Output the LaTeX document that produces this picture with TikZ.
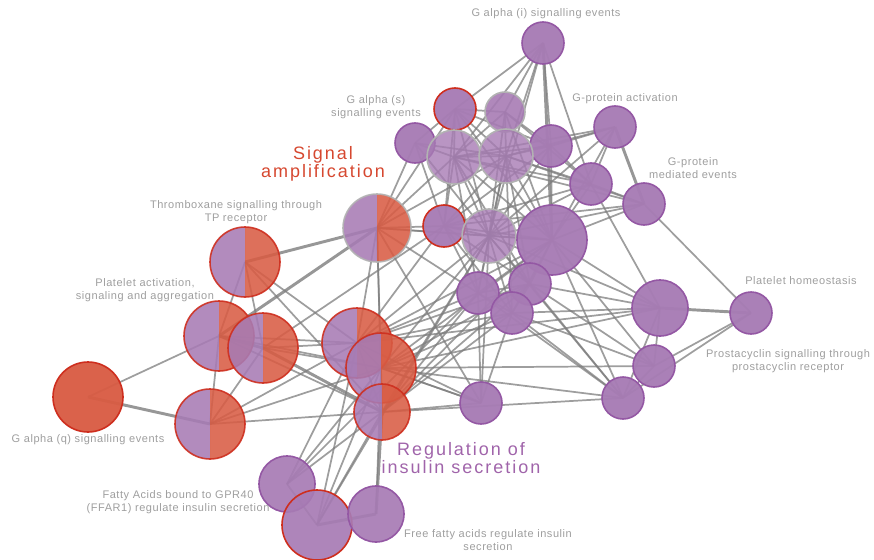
\documentclass[tikz,border=0pt]{standalone}
\usepackage{fontspec}
\setmainfont{Liberation Sans}
\newfontfamily\smallfam[LetterSpace=5]{Liberation Sans}
\newfontfamily\bigfam[LetterSpace=11]{Liberation Sans}
\usetikzlibrary{calc}
\definecolor{pf}{RGB}{167,123,180}
\definecolor{pb}{RGB}{148,88,164}
\definecolor{rf}{RGB}{216,92,68}
\definecolor{rb}{RGB}{206,46,30}
\definecolor{gb}{RGB}{178,178,178}
\definecolor{edgecol}{RGB}{125,125,125}
\definecolor{lab}{RGB}{158,158,158}
\definecolor{redlab}{RGB}{214,72,48}
\definecolor{purlab}{RGB}{160,100,170}
\newcommand\rsCirc[5]{\filldraw[fill=#3,draw=#4,line width=1.2pt,fill opacity=#5] (#1) circle[radius={#2*0.75pt}];}
\newcommand\rsSplit[3]{%
  \begin{scope}\clip ($(#1)+(-#2-3,-#2-3)$) rectangle ($(#1)+(0,#2+3)$);
  \fill[pf,fill opacity=0.88] (#1) circle[radius={#2*0.75pt}];\end{scope}
  \begin{scope}\clip ($(#1)+(0,-#2-3)$) rectangle ($(#1)+(#2+3,#2+3)$);
  \fill[rf,fill opacity=0.88] (#1) circle[radius={#2*0.75pt}];\end{scope}
  \draw[#3,line width=1.2pt,draw opacity=0.9] (#1) circle[radius={#2*0.75pt}];}
\tikzset{
  ew/.style={draw=edgecol,line width=1.3pt,draw opacity=0.75},
  et/.style={draw=edgecol,line width=2.2pt,draw opacity=0.8},
  smalllab/.style={text=lab,font=\smallfam\fontsize{8.25}{9.75}\selectfont,align=center,inner sep=0pt},
  biglab/.style={font=\bigfam\fontsize{13.5}{13.5}\selectfont,align=center,inner sep=0pt}
}
\begin{document}
\begin{tikzpicture}[x=0.75pt,y=-0.75pt]
\useasboundingbox (0,0) rectangle (874,560);
% centres
\coordinate (gi) at (543,43);
\coordinate (c2) at (455,109);
\coordinate (c3) at (505,112);
\coordinate (gs) at (415,143);
\coordinate (c5) at (454,157);
\coordinate (c6) at (506,156);
\coordinate (c7) at (551,146);
\coordinate (gpa) at (615,127);
\coordinate (c9) at (591,184);
\coordinate (gpm) at (644,204);
\coordinate (sa) at (377,228);
\coordinate (c12) at (444,226);
\coordinate (c13) at (489,236);
\coordinate (c14) at (552,240);
\coordinate (c15) at (478,293);
\coordinate (c16) at (530,284);
\coordinate (c17) at (512,313);
\coordinate (c18) at (660,308);
\coordinate (ph) at (751,313);
\coordinate (pc) at (654,366);
\coordinate (c21) at (623,398);
\coordinate (c22) at (481,403);
\coordinate (tp) at (245,262);
\coordinate (pa) at (219,336);
\coordinate (c25) at (263,348);
\coordinate (c26) at (357,343);
\coordinate (c27) at (381,368);
\coordinate (c28) at (382,412);
\coordinate (gq) at (88,397);
\coordinate (c30) at (210,424);
\coordinate (fa) at (287,484);
\coordinate (c32) at (317,525);
\coordinate (ff) at (376,514);
% edges
\foreach \b in {c2,c3,c5,c6,c7,c13,c9} \draw[ew] (gi) -- (\b);
\draw[et] (gi) -- (c14);
\foreach \b in {c2,c5,c12,c13,sa,c6} \draw[ew] (gs) -- (\b);
\foreach \b in {c3,c5,c6,c7,c13,c12,c14} \draw[ew] (c2) -- (\b);
\foreach \b in {c5,c6,c7,c13,c14,c9} \draw[ew] (c3) -- (\b);
\foreach \b in {c6,c7,c12,c13,c14,c15,c16,c9} \draw[ew] (c5) -- (\b);
\foreach \b in {c7,c9,c12,c13,c14,c15,c16,c17,gpm} \draw[ew] (c6) -- (\b);
\foreach \b in {c9,c13,c14,c12,gpa} \draw[ew] (c7) -- (\b);
\foreach \b in {c9,c6,c13,c14,c5} \draw[ew] (gpa) -- (\b);
\draw[et] (gpa) -- (gpm);
\foreach \b in {c12,c13,c14,gpm,c18} \draw[ew] (c9) -- (\b);
\foreach \b in {c14,c13,ph,c5,c12} \draw[ew] (gpm) -- (\b);
\foreach \b in {c12,c13,c14,c6,c26,c27,c28,c15,c22,c2,c5} \draw[ew] (sa) -- (\b);
\foreach \b in {tp,pa} \draw[et] (sa) -- (\b);
\foreach \b in {c13,c14,c15,c16,c17} \draw[ew] (c12) -- (\b);
\foreach \b in {c14,c15,c16,c17,c22,c18,c21} \draw[ew] (c13) -- (\b);
\foreach \b in {c15,c16,c17,c18,pc,c21} \draw[ew] (c14) -- (\b);
\foreach \b in {c16,c17,c22,c21} \draw[ew] (c15) -- (\b);
\foreach \b in {c17,c18,c21,pc} \draw[ew] (c16) -- (\b);
\foreach \b in {c22,c18,c21,pc} \draw[ew] (c17) -- (\b);
\draw[et] (c18) -- (ph);
\foreach \b in {pc,c21} \draw[ew] (c18) -- (\b);
\foreach \b in {pc,c21} \draw[ew] (ph) -- (\b);
\draw[ew] (pc) -- (c21);
\foreach \b in {c26,c27} \draw[ew] (c22) -- (\b);
\foreach \b in {pa,c25,c26,c28} \draw[ew] (tp) -- (\b);
\draw[et] (pa) -- (c25);
\foreach \b in {gq,c30,c26,c27,c28} \draw[ew] (pa) -- (\b);
\foreach \b in {c26,c27,c30,c12} \draw[ew] (c25) -- (\b);
\draw[et] (c25) -- (c28);
\foreach \b in {c27,c28,c13,c14,c15,c16,c12,c17,c18} \draw[ew] (c26) -- (\b);
\foreach \b in {c28,c14,c16,c17,c18,pc,c21,c13,c22} \draw[ew] (c27) -- (\b);
\foreach \b in {c13,c14,c15,c16,c17,c21,c22} \draw[ew] (c28) -- (\b);
\draw[et] (c28) -- (ff);
\draw[et] (gq) -- (c30);
\foreach \b in {c26,c27,c28} \draw[ew] (c30) -- (\b);
\foreach \b in {c32,c26,c27,c28,c15} \draw[ew] (fa) -- (\b);
\foreach \b in {c27,c28,c26,c13} \draw[ew] (c32) -- (\b);
\draw[et] (c32) -- (ff);
\draw[ew] (ff) -- (c27);
% nodes
\rsCirc{gi}{21}{pf}{pb}{0.96}
\rsCirc{gpa}{21}{pf}{pb}{0.96}
\rsCirc{gpm}{21}{pf}{pb}{0.96}
\rsCirc{c9}{21}{pf}{pb}{0.96}
\rsCirc{c7}{21}{pf}{pb}{0.96}
\rsCirc{gs}{20}{pf}{pb}{0.96}
\rsCirc{c3}{20}{pf}{gb}{0.9}
\rsCirc{c2}{21}{pf}{rb}{0.96}
\rsCirc{c5}{27}{pf}{gb}{0.8}
\rsCirc{c6}{27}{pf}{gb}{0.8}
\rsCirc{c12}{21}{pf}{rb}{0.96}
\rsCirc{c13}{27}{pf}{gb}{0.8}
\rsCirc{c14}{35}{pf}{pb}{0.96}
\rsCirc{c15}{21}{pf}{pb}{0.96}
\rsCirc{c16}{21}{pf}{pb}{0.96}
\rsCirc{c17}{21}{pf}{pb}{0.96}
\rsCirc{c18}{28}{pf}{pb}{0.96}
\rsCirc{ph}{21}{pf}{pb}{0.96}
\rsCirc{pc}{21}{pf}{pb}{0.96}
\rsCirc{c21}{21}{pf}{pb}{0.96}
\rsCirc{c22}{21}{pf}{pb}{0.96}
\rsSplit{sa}{34}{gb}
\rsSplit{tp}{35}{rb}
\rsSplit{pa}{35}{rb}
\rsSplit{c25}{35}{rb}
\rsSplit{c26}{35}{rb}
\rsSplit{c27}{35}{rb}
\rsSplit{c28}{28}{rb}
\rsCirc{gq}{35}{rf}{rb}{0.96}
\rsSplit{c30}{35}{rb}
\rsCirc{fa}{28}{pf}{pb}{0.92}
\rsCirc{c32}{35}{pf}{rb}{0.92}
\rsCirc{ff}{28}{pf}{pb}{0.92}
% labels
\node[smalllab] (lgi) at (546,14) {G alpha (i) signalling events};
\node[smalllab] (lgs) at (376,107) {G alpha (s)\\signalling events};
\node[smalllab] (lgpa) at (625,99) {G-protein activation};
\node[smalllab] (lgpm) at (693,168) {G-protein\\mediated events};
\node[smalllab] (ltp) at (236,212) {Thromboxane signalling through\\TP receptor};
\node[smalllab] (lpa) at (145,290) {Platelet activation,\\signaling and aggregation};
\node[smalllab] (lph) at (801,281) {Platelet homeostasis};
\node[smalllab] (lpc) at (788,361) {Prostacyclin signalling through\\prostacyclin receptor};
\node[smalllab] (lgq) at (88,440) {G alpha (q) signalling events};
\node[smalllab] (lfa) at (178,502) {Fatty Acids bound to GPR40\\(FFAR1) regulate insulin secretion};
\node[smalllab] (lff) at (488,540) {Free fatty acids regulate insulin\\secretion};
\node[biglab,text=redlab] (lsa) at (323,164) {Signal\\amplification};
\node[biglab,text=purlab] (lri) at (461,458) {Regulation of\\insulin secretion};
\end{tikzpicture}
\end{document}
